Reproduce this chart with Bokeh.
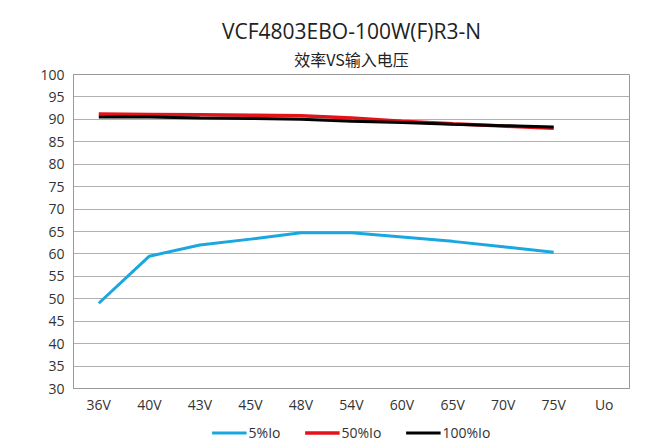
from bokeh.plotting import figure
from bokeh.layouts import column
from bokeh.models import Title, Legend, LegendItem, FixedTicker, Range1d
from bokeh.embed import file_html
from bokeh.resources import INLINE

categories = ["36V", "40V", "43V", "45V", "48V", "54V", "60V", "65V", "70V", "75V", "Uo"]
volts = ["36V", "40V", "43V", "45V", "48V", "54V", "60V", "65V", "70V", "75V"]
eff_5 = [49.0, 59.5, 62.0, 63.3, 64.7, 64.7, 63.8, 62.8, 61.6, 60.4]
eff_50 = [91.2, 91.1, 91.0, 90.9, 90.8, 90.3, 89.6, 89.0, 88.5, 88.0]
eff_100 = [90.5, 90.5, 90.3, 90.2, 90.0, 89.6, 89.3, 88.9, 88.6, 88.3]
y_ticks = list(range(30, 101, 5))
series = [("5%Io", eff_5, "#1AA7E0", 3), ("50%Io", eff_50, "#E3121B", 3.5), ("100%Io", eff_100, "#000000", 3)]

FONT = "Open Sans"
p = figure(x_range=categories, y_range=Range1d(30, 100),
           width=643, height=416,
           output_backend="svg", toolbar_location=None,
           min_border_left=73, min_border_right=14,
           min_border_top=74, min_border_bottom=25)

p.add_layout(Title(text="效率VS输入电压", align="center", text_font="Noto Sans CJK SC",
                   text_font_size="16px", text_font_style="normal", text_color="#222222",
                   offset=0, standoff=7), "above")
p.add_layout(Title(text="VCF4803EBO-100W(F)R3-N", align="center", text_font=FONT,
                   text_font_size="21px", text_font_style="normal", text_color="#222222",
                   standoff=-7), "above")

for name, vals, color, lw in series:
    p.line(volts, vals, line_color=color, line_width=lw)

p.yaxis.ticker = FixedTicker(ticks=y_ticks)
for ax in (p.xaxis, p.yaxis):
    ax.major_label_text_font = FONT
    ax.major_label_text_font_size = "14px"
    ax.major_label_text_color = "#333333"
    ax.axis_line_color = "#999999"
    ax.major_tick_line_color = None
    ax.minor_tick_line_color = None
    ax.major_tick_in = 0
    ax.major_tick_out = 0
p.yaxis.major_label_standoff = 9
p.xaxis.major_label_standoff = 6

p.xgrid.grid_line_color = None
p.ygrid.grid_line_color = "#b0b0b0"
p.outline_line_color = "#999999"

# legend strip below the chart (same series, drawn outside its visible range)
lg = figure(x_range=categories, y_range=Range1d(0, 1), width=643, height=32,
            output_backend="svg", toolbar_location=None,
            min_border_left=44, min_border_right=0, min_border_top=0, min_border_bottom=0)
lg.axis.visible = False
lg.grid.grid_line_color = None
lg.outline_line_color = None
items = []
for name, vals, color, lw in series:
    r = lg.line(volts, vals, line_color=color, line_width=lw)
    items.append(LegendItem(label=name, renderers=[r]))

legend = Legend(items=items, orientation="horizontal", location="center",
                label_text_font=FONT, label_text_font_size="14px", label_text_color="#333333",
                glyph_width=35, glyph_height=14, label_standoff=2, spacing=24, padding=0, margin=0,
                label_height=14, border_line_color=None, background_fill_alpha=0)
lg.add_layout(legend, "center")

layout = column(p, lg, spacing=0)
open("out.html", "w").write(file_html(layout, INLINE))
